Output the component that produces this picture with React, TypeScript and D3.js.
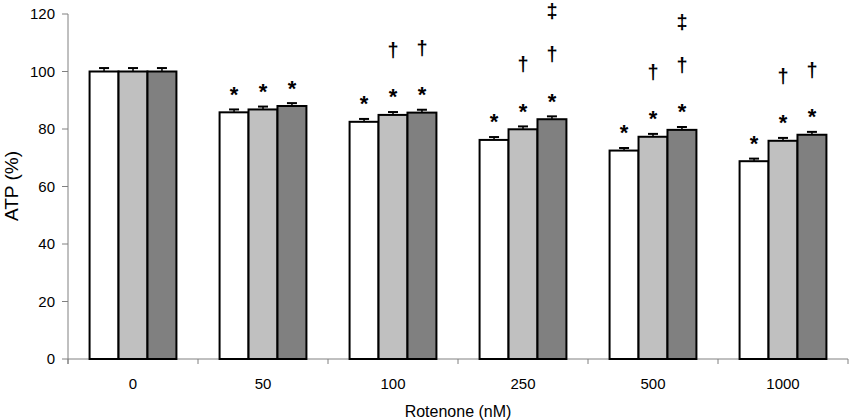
import React from "react";
import * as d3 from "d3";

const categories = ["0", "50", "100", "250", "500", "1000"];
const seriesA = [100, 85.8, 82.5, 76.2, 72.5, 68.8];
const seriesB = [100, 86.8, 84.9, 79.9, 77.3, 75.9];
const seriesC = [100, 88.0, 85.7, 83.4, 79.7, 78.0];
const errA = [1.2, 1.0, 1.0, 1.0, 0.9, 0.9];
const errB = [1.2, 1.0, 1.0, 1.0, 1.0, 1.0];
const errC = [1.2, 1.0, 1.0, 1.0, 1.0, 1.0];
// significance marks per series per category
const marksA = ["", "*", "*", "*", "*", "*"];
const marksB = ["", "*", "*†", "*†", "*†", "*†"];
const marksC = ["", "*", "*†", "*†‡", "*†‡", "*†"];
const yTicks = [0, 20, 40, 60, 80, 100, 120];
const fills = ["#ffffff", "#c0c0c0", "#808080"];

const W = 850, H = 420;
const left = 68, right = 848, top = 14, bottom = 359;

export default function App() {
  const x = d3.scaleBand<string>().domain(categories).range([left, right]).paddingInner(0).paddingOuter(0);
  const y = d3.scaleLinear().domain([0, 120]).range([bottom, top]);
  const bw0 = x.bandwidth();
  const inner = d3.scaleBand<number>().domain([0, 1, 2]).range([bw0 * 0.166, bw0 * 0.834]).paddingInner(0).paddingOuter(0);
  const series = [seriesA, seriesB, seriesC];
  const errs = [errA, errB, errC];
  const marks = [marksA, marksB, marksC];
  const font = "'Liberation Sans', Arial, sans-serif";

  const boundaries = categories.map((c) => x(c)!).concat([right]);

  return (
    <svg width={W} height={H} style={{ position: "absolute", left: 0, top: 0 }} fontFamily={font}>
      {/* y axis */}
      <line x1={left} x2={left} y1={top} y2={bottom + 5} stroke="#808080" strokeWidth={1} />
      {yTicks.map((t) => (
        <g key={t}>
          <line x1={left - 6} x2={left} y1={y(t)} y2={y(t)} stroke="#808080" />
          <text x={left - 13} y={y(t)} dy="0.35em" textAnchor="end" fontSize={15} fill="#000">{t}</text>
        </g>
      ))}
      <text transform={`translate(18,${186}) rotate(-90)`} textAnchor="middle" fontSize={19}>ATP (%)</text>
      {/* x axis */}
      <line x1={left} x2={right} y1={bottom} y2={bottom} stroke="#808080" />
      {boundaries.map((b, i) => (
        <line key={i} x1={b} x2={b} y1={bottom} y2={bottom + 5} stroke="#808080" />
      ))}
      {categories.map((c) => (
        <text key={c} x={x(c)! + x.bandwidth() / 2} y={389} textAnchor="middle" fontSize={15}>{c}</text>
      ))}
      <text x={(left + right) / 2} y={417} textAnchor="middle" fontSize={16}>Rotenone (nM)</text>
      {/* bars */}
      {categories.map((c, ci) => (
        <g key={c}>
          {series.map((s, si) => {
            const bx = x(c)! + inner(si)!;
            const bw = inner.bandwidth();
            const cx = bx + bw / 2;
            const yt = y(s[ci]);
            const ye = y(s[ci] + errs[si][ci]);
            return (
              <g key={si}>
                <line x1={cx} x2={cx} y1={yt} y2={ye} stroke="#000" strokeWidth={1.5} />
                <line x1={cx - 5} x2={cx + 5} y1={ye} y2={ye} stroke="#000" strokeWidth={2} />
                <rect x={bx} y={yt} width={bw} height={bottom - yt} fill={fills[si]} stroke="#000" strokeWidth={2} />
              </g>
            );
          })}
          {series.map((s, si) => {
            const cx = x(c)! + inner(si)! + inner.bandwidth() / 2;
            const yt = y(s[ci]);
            return Array.from(marks[si][ci]).map((m, mi) =>
              m === "*" ? (
                <text key={`${si}-${mi}`} x={cx} y={yt - 27} dy="0.75em" textAnchor="middle" fontSize={22} fontWeight="bold">{m}</text>
              ) : (
                <text key={`${si}-${mi}`} x={cx} y={yt - 65 - (mi - 1) * 43} dy="0.35em" textAnchor="middle" fontSize={20} fontWeight="bold">{m}</text>
              )
            );
          })}
        </g>
      ))}
    </svg>
  );
}
